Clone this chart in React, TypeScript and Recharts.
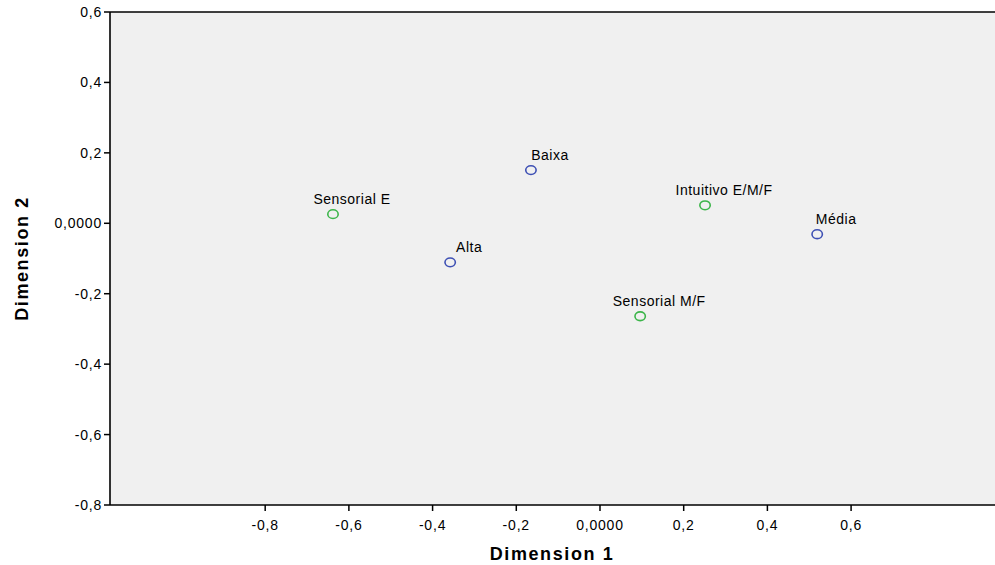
import React from "react";
import {
  ScatterChart,
  Scatter,
  XAxis,
  YAxis,
  CartesianGrid,
  ReferenceLine,
  Label,
} from "recharts";

// Category quantifications
const rowLabels = ["Baixa", "Alta", "Média"];
const rowDim1 = [-0.165, -0.358, 0.519];
const rowDim2 = [0.151, -0.111, -0.031];

const colLabels = ["Sensorial E", "Intuitivo E/M/F", "Sensorial M/F"];
const colDim1 = [-0.638, 0.251, 0.096];
const colDim2 = [0.026, 0.051, -0.264];

const xTicks = [-0.8, -0.6, -0.4, -0.2, 0, 0.2, 0.4, 0.6];
const yTicks = [-0.8, -0.6, -0.4, -0.2, 0, 0.2, 0.4, 0.6];

const rowData = rowLabels.map((name, i) => ({ name, x: rowDim1[i], y: rowDim2[i] }));
const colData = colLabels.map((name, i) => ({ name, x: colDim1[i], y: colDim2[i] }));

const BLUE = "#3e50b4";
const GREEN = "#3cb54a";
const FONT = "'Liberation Sans', Arial, sans-serif";

const fmt = (v: number) => (Math.abs(v) < 1e-9 ? "0,0000" : v.toFixed(1).replace(".", ","));

const makeShape = (color: string) => (props: any) => {
  const { cx, cy, payload } = props;
  return (
    <g>
      <ellipse cx={cx} cy={cy} rx={5.2} ry={4.4} fill="none" stroke={color} strokeWidth={1.6} />
      <text
        x={cx + 19}
        y={cy - 10}
        textAnchor="middle"
        fontFamily={FONT}
        fontSize={14}
        letterSpacing={0.5}
        fill="#000"
      >
        {payload.name}
      </text>
    </g>
  );
};

const tickStyle = { fill: "#000", fontSize: 14, fontFamily: FONT, letterSpacing: 0.8 };

export default function App() {
  return (
    <div
      style={{
        position: "absolute",
        left: 0,
        top: 0,
        width: 995,
        height: 565,
        overflow: "hidden",
        background: "#fff",
      }}
    >
      <ScatterChart width={1010} height={565} margin={{ top: 12, right: 0, bottom: 0, left: 0 }}>
        <CartesianGrid fill="#f0f0f0" horizontal={false} vertical={false} />
        <XAxis
          type="number"
          dataKey="x"
          domain={[-1.1708, 0.9797]}
          ticks={xTicks}
          tickFormatter={fmt}
          allowDataOverflow
          height={60}
          tickSize={6}
          tickMargin={9}
          tick={tickStyle}
          axisLine={{ stroke: "#000", strokeWidth: 1.6 }}
          tickLine={{ stroke: "#000", strokeWidth: 1.5 }}
        >
          <Label
            content={(props: any) => {
              const cx = 552;
              const cy = 560;
              return (
                <text
                  x={cx}
                  y={cy}
                  textAnchor="middle"
                  fontFamily={FONT}
                  fontSize={18}
                  fontWeight="bold"
                  letterSpacing={1.6}
                  fill="#000"
                >
                  Dimension 1
                </text>
              );
            }}
          />
        </XAxis>
        <YAxis
          type="number"
          dataKey="y"
          domain={[-0.8, 0.6]}
          ticks={yTicks}
          tickFormatter={fmt}
          allowDataOverflow
          width={110}
          tickSize={6}
          tickMargin={2}
          tick={tickStyle}
          axisLine={{ stroke: "#000", strokeWidth: 1.6 }}
          tickLine={{ stroke: "#000", strokeWidth: 1.5 }}
        >
          <Label
            content={(props: any) => {
              const vb = props.viewBox || { x: 0, y: 12, width: 110, height: 493 };
              const cx = vb.x + 22;
              const cy = vb.y + vb.height / 2;
              return (
                <text
                  x={cx}
                  y={cy}
                  transform={`rotate(-90 ${cx} ${cy})`}
                  textAnchor="middle"
                  dominantBaseline="central"
                  fontFamily={FONT}
                  fontSize={18}
                  fontWeight="bold"
                  letterSpacing={1.6}
                  fill="#000"
                >
                  Dimension 2
                </text>
              );
            }}
          />
        </YAxis>
        <ReferenceLine y={0.6} stroke="#000" strokeWidth={1.6} />
        <Scatter data={colData} shape={makeShape(GREEN)} isAnimationActive={false} />
        <Scatter data={rowData} shape={makeShape(BLUE)} isAnimationActive={false} />
      </ScatterChart>
    </div>
  );
}
